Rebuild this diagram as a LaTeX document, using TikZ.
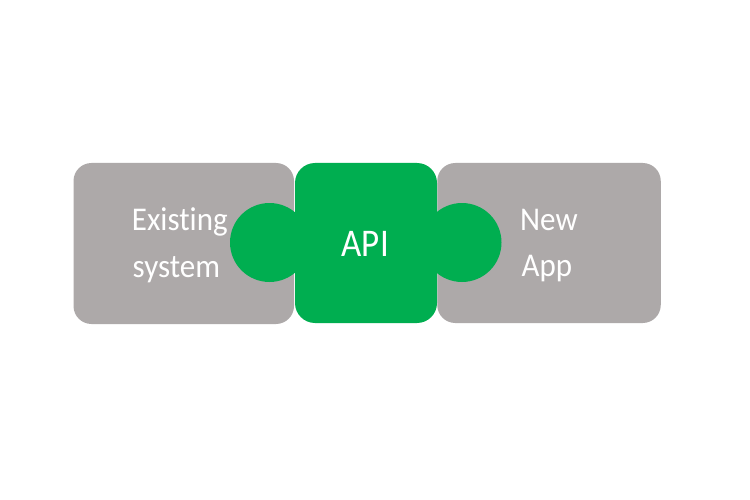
\documentclass[tikz,border=0pt]{standalone}
\usepackage{fontspec}
\setmainfont[Ligatures={NoCommon}]{Carlito}
\definecolor{boxgray}{RGB}{173,169,169}
\definecolor{apigreen}{RGB}{0,174,80}
\newcommand{\tallish}[1]{\scalebox{1}[1.07]{#1}}
\begin{document}
\begin{tikzpicture}[x=1pt,y=-1pt,
  piece/.style={rectangle,rounded corners=18pt,inner sep=0pt,outer sep=0pt,draw=none},
  knob/.style={circle,fill=apigreen,inner sep=0pt,outer sep=0pt,draw=none,minimum size=79pt},
  lbl/.style={text=white,inner sep=0pt,anchor=base west,font=\fontsize{31}{37}\selectfont}]
\useasboundingbox (0,0) rectangle (750,500);
\fill[white] (0,0) rectangle (750,500);
\node[piece,fill=boxgray,minimum width=220.5pt,minimum height=161pt] (exist) at (183.75,243.5) {};
\node[piece,fill=boxgray,minimum width=223.5pt,minimum height=160pt] (newapp) at (549,243) {};
\node[knob] (kl) at (269.5,242.5) {};
\node[knob] (kr) at (462,242.5) {};
\node[piece,fill=apigreen,rounded corners=20pt,minimum width=142pt,minimum height=160pt] (api) at (366,243) {};
\node[lbl] (t1) at (131.7,230) {\tallish{Existing}};
\node[lbl] (t2) at (132.5,277) {\tallish{system}};
\node[lbl] (t3) at (520,230) {\tallish{New}};
\node[lbl] (t4) at (521.5,276) {\tallish{App}};
\node[lbl,font=\fontsize{35}{40}\selectfont] (t5) at (341.5,256.7) {\scalebox{1}[1.12]{API}};
\end{tikzpicture}
\end{document}
